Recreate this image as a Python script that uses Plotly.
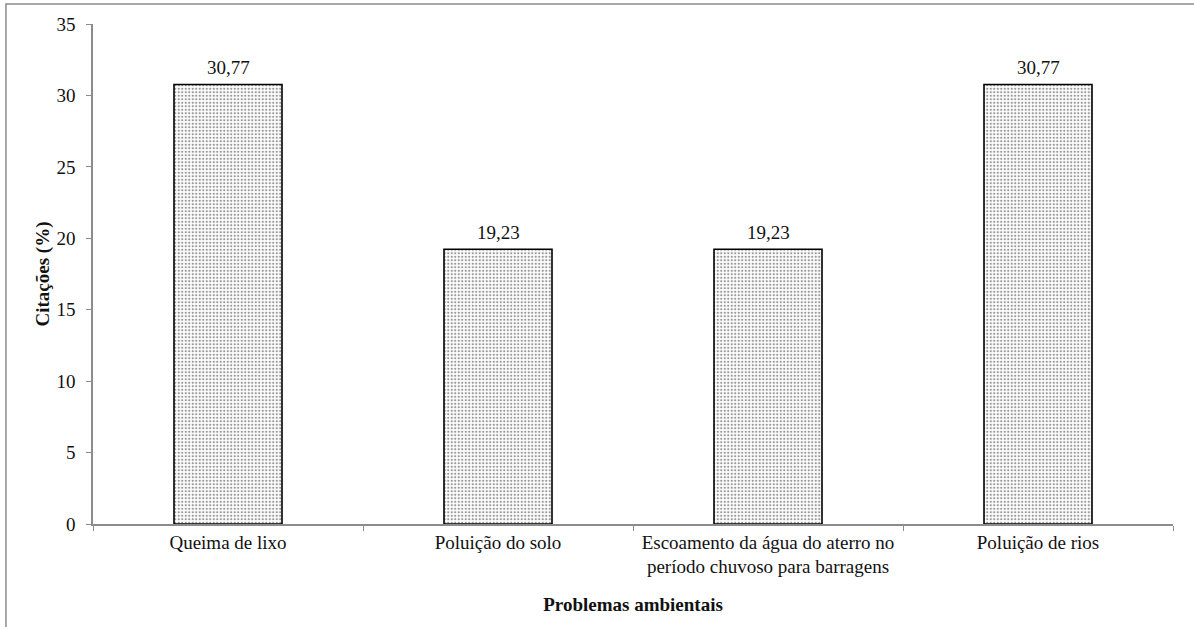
import plotly.graph_objects as go

# Problemas ambientais citados e percentual de citações
categorias = [
    "Queima de lixo",
    "Poluição do solo",
    "Escoamento da água do aterro no<br>período chuvoso para barragens",
    "Poluição de rios",
]
citacoes = [30.77, 19.23, 19.23, 30.77]
rotulos = ["30,77", "19,23", "19,23", "30,77"]

FONTE = "Liberation Serif, Times New Roman, serif"
CINZA = "#8c8c8c"
TAM = 19

fig = go.Figure()
fig.add_trace(go.Bar(
    x=categorias,
    y=citacoes,
    width=0.4,
    marker=dict(
        color="white",
        line=dict(color="black", width=1.6),
        pattern=dict(shape=".", fgcolor="#333333", bgcolor="white",
                     size=3.5, solidity=0.35, fillmode="overlay"),
    ),
    showlegend=False,
    hoverinfo="skip",
))

# Rótulos de valor acima das barras
for cat, val, txt in zip(categorias, citacoes, rotulos):
    fig.add_annotation(x=cat, y=val, text=txt, showarrow=False,
                       yanchor="bottom", yshift=4,
                       font=dict(family=FONTE, size=TAM, color="#111111"))

# Moldura cinza em volta do gráfico
fig.add_shape(type="rect", xref="paper", yref="paper",
              x0=-0.0806, x1=1.05, y0=-0.3, y1=1.04,
              line=dict(color=CINZA, width=1.5), layer="below")

fig.update_layout(
    width=1194, height=627,
    margin=dict(l=93, r=21, t=24, b=103),
    paper_bgcolor="white", plot_bgcolor="white",
    font=dict(family=FONTE, size=TAM, color="#111111"),
    separators=",.",
    bargap=0.6,
)
fig.update_xaxes(
    type="category", tickson="boundaries",
    showline=True, linecolor=CINZA, linewidth=1.5,
    ticks="outside", ticklen=5, tickcolor=CINZA,
    showgrid=False, zeroline=False,
    tickfont=dict(family=FONTE, size=TAM),
    title=dict(text="<b>Problemas ambientais</b>", standoff=21,
               font=dict(family=FONTE, size=TAM)),
)
fig.update_yaxes(
    range=[0, 35], dtick=5,
    showline=True, linecolor=CINZA, linewidth=1.5,
    ticks="outside", ticklen=5, tickcolor=CINZA,
    ticklabelstandoff=7,
    showgrid=False, zeroline=False,
    tickfont=dict(family=FONTE, size=TAM),
    title=dict(text="<b>Citações (%)</b>", standoff=2,
               font=dict(family=FONTE, size=TAM)),
)

fig.write_html("out.html")
